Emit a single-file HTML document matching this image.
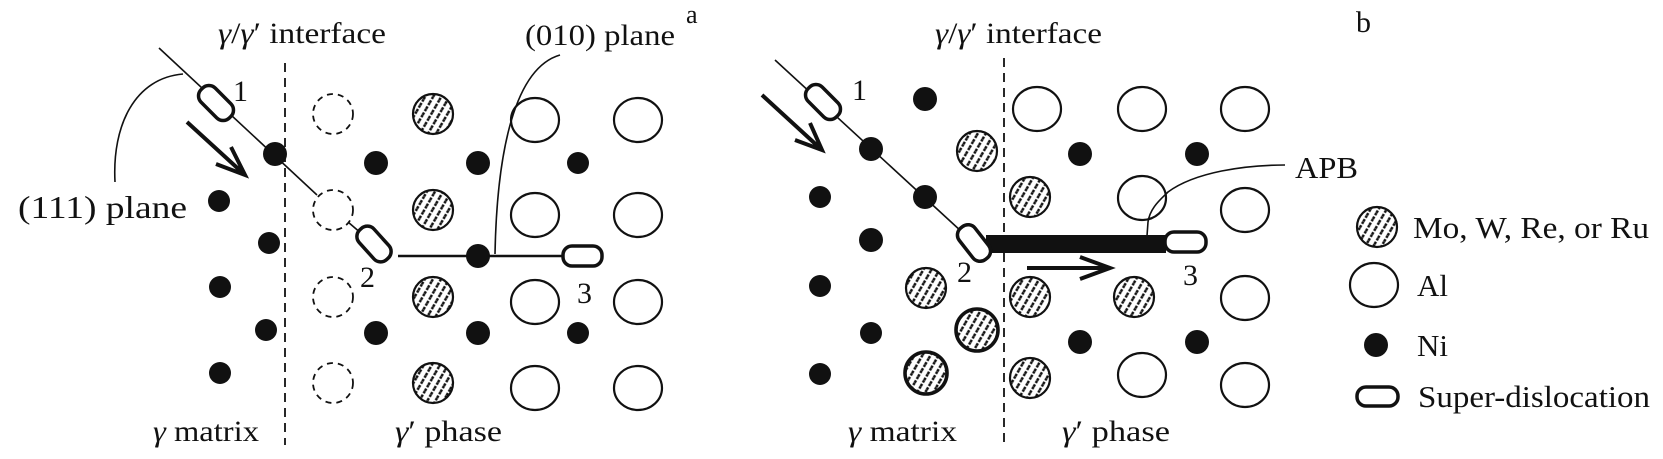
<!DOCTYPE html>
<html><head><meta charset="utf-8"><style>
html,body{margin:0;padding:0;background:#fff;}
svg{display:block;}
text{font-family:"Liberation Serif",serif;fill:#111;}
</style></head><body>
<svg width="1663" height="459" viewBox="0 0 1663 459" xmlns="http://www.w3.org/2000/svg">
<defs>
<pattern id="h" width="7" height="7" patternUnits="userSpaceOnUse" patternTransform="rotate(-60)">
<line x1="0" y1="3.5" x2="7" y2="3.5" stroke="#111" stroke-width="2.6" stroke-dasharray="2.6 1.6"/>
</pattern>
</defs>
<g stroke="#111" fill="none">
<!-- ============ Panel a ============ -->
<line x1="285" y1="63" x2="285" y2="445" stroke-width="1.8" stroke-dasharray="9 6"/>
<!-- dashed circles -->
<g stroke-width="1.8" stroke-dasharray="6 5">
<circle cx="333" cy="114" r="20"/><circle cx="333" cy="210" r="20"/><circle cx="333" cy="297" r="20"/><circle cx="333" cy="383" r="20"/>
</g>
<!-- hatched -->
<g stroke-width="2.2" fill="url(#h)">
<circle cx="433" cy="114" r="20"/><circle cx="433" cy="210" r="20"/><circle cx="433" cy="297" r="20"/><circle cx="433" cy="383" r="20"/>
</g>
<!-- open -->
<g stroke-width="2.2">
<ellipse cx="535" cy="120" rx="24" ry="22"/><ellipse cx="535" cy="215" rx="24" ry="22"/><ellipse cx="535" cy="302" rx="24" ry="22"/><ellipse cx="535" cy="388" rx="24" ry="22"/>
<ellipse cx="638" cy="120" rx="24" ry="22"/><ellipse cx="638" cy="215" rx="24" ry="22"/><ellipse cx="638" cy="302" rx="24" ry="22"/><ellipse cx="638" cy="388" rx="24" ry="22"/>
</g>
<!-- lines -->
<line x1="159" y1="48" x2="317" y2="195" stroke-width="1.6"/>
<line x1="348" y1="222" x2="362" y2="234" stroke-width="1.6"/>
<line x1="398" y1="256" x2="562" y2="256" stroke-width="2.4"/>
<path d="M183,74 C135,78 112,125 115,182" stroke-width="1.6"/>
<path d="M495,254 C497,150 515,68 560,55" stroke-width="1.6"/>
<!-- arrow -->
<path d="M187,122 L245,175 M216,164 L245,175 L231,147" stroke-width="4"/>
</g>
<!-- Ni dots a -->
<g fill="#111">
<circle cx="275" cy="154" r="12"/><circle cx="219" cy="201" r="11"/><circle cx="269" cy="243" r="11"/><circle cx="220" cy="287" r="11"/><circle cx="266" cy="330" r="11"/><circle cx="220" cy="373" r="11"/>
<circle cx="376" cy="163" r="12"/><circle cx="478" cy="163" r="12"/><circle cx="578" cy="163" r="11"/>
<circle cx="376" cy="333" r="12"/><circle cx="478" cy="333" r="12"/><circle cx="578" cy="333" r="11"/>
<circle cx="478" cy="256" r="12"/>
</g>
<g stroke="#111" fill="#fff" stroke-width="3.5">
<rect x="-20" y="-10" width="40" height="20" rx="9" transform="translate(216,103) rotate(45)"/>
<rect x="-20" y="-10" width="40" height="20" rx="9" transform="translate(374,244) rotate(48)"/>
<rect x="563" y="246" width="39" height="20" rx="9"/>
</g>
<text x="233" y="101" font-size="30">1</text>
<text x="360" y="287" font-size="30">2</text>
<text x="577" y="303" font-size="30">3</text>
<text x="218" y="43" font-size="30" textLength="168" lengthAdjust="spacingAndGlyphs"><tspan font-style="italic">γ</tspan>/<tspan font-style="italic">γ</tspan>′ interface</text>
<text x="525" y="45" font-size="30" textLength="150" lengthAdjust="spacingAndGlyphs">(010) plane</text>
<text x="686" y="23" font-size="26">a</text>
<text x="18" y="218" font-size="32" textLength="169" lengthAdjust="spacingAndGlyphs">(111) plane</text>
<text x="153" y="441" font-size="30" textLength="106" lengthAdjust="spacingAndGlyphs"><tspan font-style="italic">γ</tspan> matrix</text>
<text x="395" y="441" font-size="30" textLength="107" lengthAdjust="spacingAndGlyphs"><tspan font-style="italic">γ</tspan>′ phase</text>

<!-- ============ Panel b ============ -->
<g stroke="#111" fill="none">
<line x1="1004" y1="58" x2="1004" y2="445" stroke-width="1.8" stroke-dasharray="9 6"/>
<g stroke-width="2.2" fill="url(#h)">
<circle cx="977" cy="151" r="20"/><circle cx="926" cy="288" r="20"/>
<circle cx="1030" cy="197" r="20"/><circle cx="1030" cy="297" r="20"/><circle cx="1030" cy="378" r="20"/><circle cx="1134" cy="297" r="20"/>
<circle cx="977" cy="330" r="21" stroke-width="3.6"/><circle cx="926" cy="373" r="21" stroke-width="3.6"/>
</g>
<g stroke-width="2.2">
<ellipse cx="1037" cy="109" rx="24" ry="22"/><ellipse cx="1142" cy="109" rx="24" ry="22"/><ellipse cx="1245" cy="109" rx="24" ry="22"/>
<ellipse cx="1142" cy="198" rx="24" ry="22"/><ellipse cx="1245" cy="210" rx="24" ry="22"/><ellipse cx="1245" cy="298" rx="24" ry="22"/>
<ellipse cx="1142" cy="375" rx="24" ry="22"/><ellipse cx="1245" cy="385" rx="24" ry="22"/>
</g>
<line x1="775" y1="60" x2="962" y2="232" stroke-width="1.6"/>
<path d="M1147,236 L1148,222 C1150,208 1160,200 1168,192 C1195,172 1245,165 1285,165" stroke-width="1.6"/>
<path d="M762,95 L822,150 M795,140 L822,150 L810,123" stroke-width="4"/>
<path d="M1027,268 L1110,268 M1080,257 L1110,268 L1080,279" stroke-width="4"/>
</g>
<rect x="986" y="235" width="180" height="18" fill="#111"/>
<g fill="#111">
<circle cx="925" cy="99" r="12"/><circle cx="871" cy="149" r="12"/><circle cx="925" cy="197" r="12"/>
<circle cx="820" cy="197" r="11"/><circle cx="871" cy="240" r="12"/><circle cx="820" cy="286" r="11"/><circle cx="871" cy="333" r="11"/><circle cx="820" cy="374" r="11"/>
<circle cx="1080" cy="154" r="12"/><circle cx="1197" cy="154" r="12"/><circle cx="1080" cy="342" r="12"/><circle cx="1197" cy="342" r="12"/>
</g>
<g stroke="#111" fill="#fff" stroke-width="3.5">
<rect x="-20" y="-10" width="40" height="20" rx="9" transform="translate(823,102) rotate(45)"/>
<rect x="-20" y="-10" width="40" height="20" rx="9" transform="translate(974,243) rotate(52)"/>
<rect x="1165" y="232" width="41" height="20" rx="9"/>
</g>
<text x="852" y="100" font-size="30">1</text>
<text x="957" y="282" font-size="30">2</text>
<text x="1183" y="285" font-size="30">3</text>
<text x="935" y="43" font-size="30" textLength="167" lengthAdjust="spacingAndGlyphs"><tspan font-style="italic">γ</tspan>/<tspan font-style="italic">γ</tspan>′ interface</text>
<text x="1356" y="32" font-size="30">b</text>
<text x="1295" y="178" font-size="31" textLength="63" lengthAdjust="spacingAndGlyphs">APB</text>
<text x="848" y="441" font-size="30" textLength="109" lengthAdjust="spacingAndGlyphs"><tspan font-style="italic">γ</tspan> matrix</text>
<text x="1062" y="441" font-size="30" textLength="108" lengthAdjust="spacingAndGlyphs"><tspan font-style="italic">γ</tspan>′ phase</text>

<!-- legend -->
<circle cx="1377" cy="227" r="20" stroke="#111" stroke-width="2.2" fill="url(#h)"/>
<text x="1413" y="238" font-size="31" textLength="236" lengthAdjust="spacingAndGlyphs">Mo, W, Re, or Ru</text>
<ellipse cx="1374" cy="285" rx="24" ry="22" stroke="#111" stroke-width="2.2" fill="none"/>
<text x="1417" y="296" font-size="31">Al</text>
<circle cx="1376" cy="345" r="12" fill="#111"/>
<text x="1417" y="356" font-size="31">Ni</text>
<rect x="1357" y="387" width="41" height="19" rx="9" stroke="#111" stroke-width="3.5" fill="#fff"/>
<text x="1418" y="407" font-size="31" textLength="232" lengthAdjust="spacingAndGlyphs">Super-dislocation</text>
</svg>
</body></html>
